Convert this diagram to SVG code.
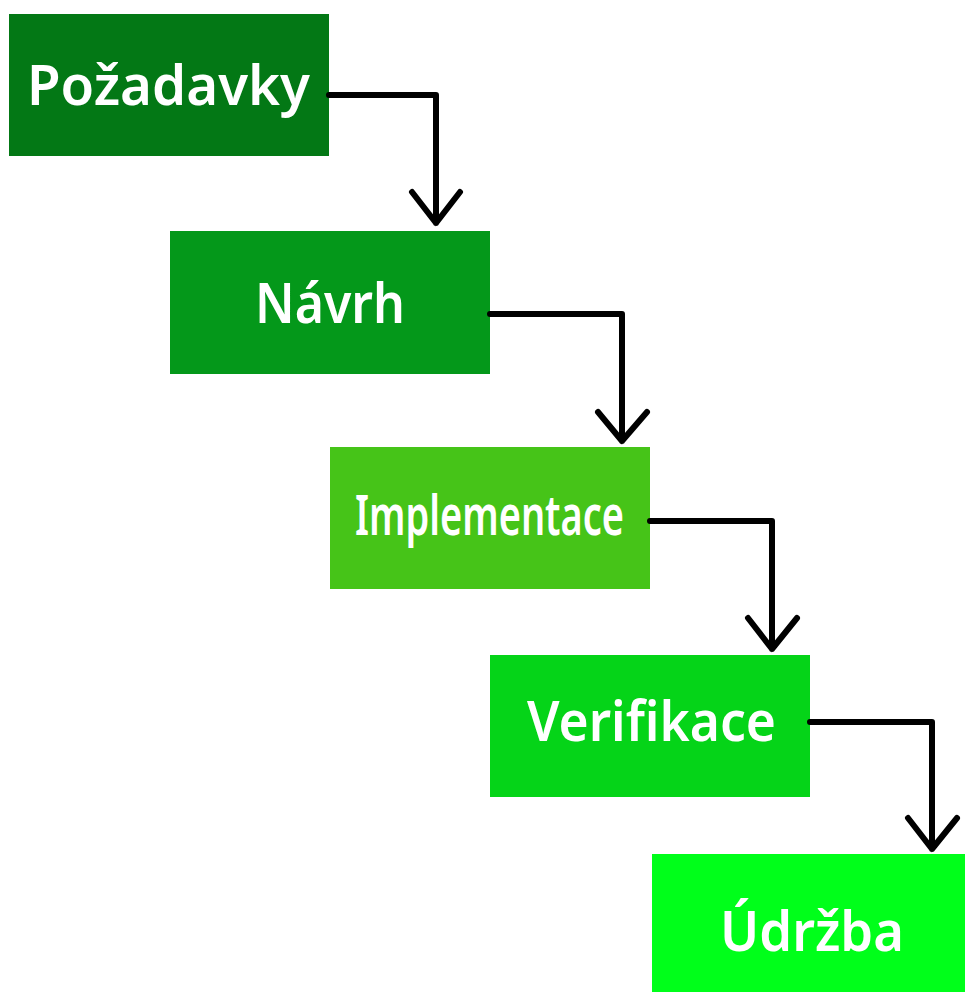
<svg xmlns="http://www.w3.org/2000/svg" width="965" height="992" viewBox="0 0 965 992">
<style>
.lbl{font-family:"Noto Sans","Liberation Sans",sans-serif;font-weight:600;font-size:56px;fill:#ffffff;text-anchor:start}
.con{fill:none;stroke:#000;stroke-width:6;stroke-linejoin:round;stroke-linecap:round}
</style>
<rect width="965" height="992" fill="#ffffff"/>
<g id="n1"><rect x="9" y="14" width="320" height="142" fill="#037815"/><text class="lbl" x="27" y="105" textLength="283" lengthAdjust="spacingAndGlyphs">Požadavky</text></g>
<g id="n2"><rect x="170" y="231" width="320" height="143" fill="#04981a"/><text class="lbl" x="255" y="323" textLength="150" lengthAdjust="spacingAndGlyphs">Návrh</text></g>
<g id="n3"><rect x="330" y="447" width="320" height="142" fill="#46c418"/><text class="lbl" x="355" y="535" textLength="269" lengthAdjust="spacingAndGlyphs">Implementace</text></g>
<g id="n4"><rect x="490" y="655" width="320" height="142" fill="#05d418"/><text class="lbl" x="527" y="741" textLength="249" lengthAdjust="spacingAndGlyphs">Verifikace</text></g>
<g id="n5"><rect x="652" y="854" width="313" height="138" fill="#00ff1a"/><text class="lbl" x="720" y="951" textLength="184" lengthAdjust="spacingAndGlyphs">Údržba</text></g>
<g id="connectors">
<path class="con" d="M329 95 H436 V223 M412 192 L436 223 L460 192"/>
<path class="con" d="M490 314 H622 V441 M598 412 L622 441 L647 412"/>
<path class="con" d="M650 521 H772 V649 M748 618 L772 649 L797 618"/>
<path class="con" d="M810 722 H932 V849 M908 818 L932 849 L957 818"/>
</g>
</svg>
